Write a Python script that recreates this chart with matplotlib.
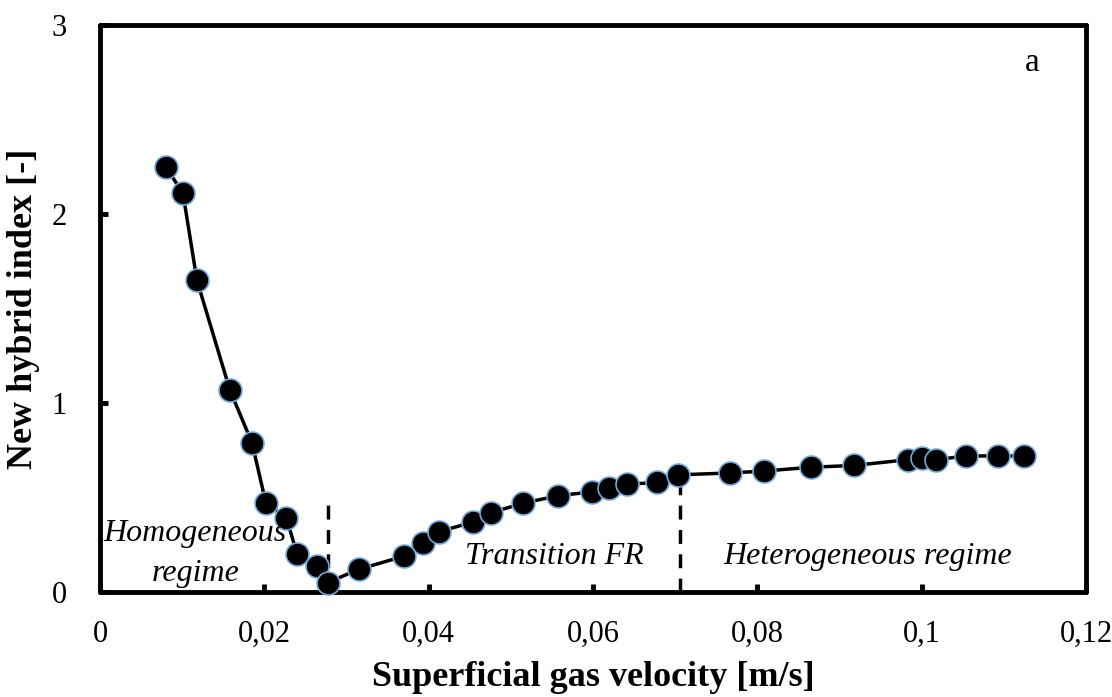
import matplotlib
matplotlib.use("Agg")
import matplotlib.pyplot as plt

# superficial gas velocity [m/s] and new hybrid index [-]
ug = [0.0080, 0.0101, 0.0118, 0.0158, 0.0185, 0.0202, 0.0227, 0.0240, 0.0264, 0.0277,
      0.0315, 0.0370, 0.0393, 0.0413, 0.0454, 0.0476, 0.0515, 0.0558, 0.0599, 0.0619,
      0.0642, 0.0678, 0.0704, 0.0767, 0.0808, 0.0865, 0.0918, 0.0983, 0.1000, 0.1018,
      0.1054, 0.1093, 0.1124]
hindex = [2.25, 2.11, 1.65, 1.07, 0.79, 0.47, 0.39, 0.20, 0.14, 0.05,
          0.12, 0.19, 0.26, 0.32, 0.37, 0.42, 0.47, 0.51, 0.53, 0.55,
          0.57, 0.58, 0.62, 0.63, 0.64, 0.66, 0.67, 0.70, 0.71, 0.70,
          0.72, 0.72, 0.72]

# regime boundaries
trans_x = [0.0278, 0.0706]
trans_top = [0.50, 0.62]

xticks = [0, 0.02, 0.04, 0.06, 0.08, 0.1, 0.12]
xlabels = ["0", "0,02", "0,04", "0,06", "0,08", "0,1", "0,12"]
yticks = [0, 1, 2, 3]

plt.rcParams['font.family'] = ['Liberation Serif', 'DejaVu Serif']

fig = plt.figure(figsize=(11.12, 6.97), dpi=100)
ax = fig.add_axes([0.0899, 0.1506, 0.8867, 0.8135])

ax.plot(ug, hindex, color='black', lw=2.5, marker='o', ms=16.5,
        mfc='black', mec='#6FA8DC', mew=1.2, zorder=3, clip_on=False)

for x, top in zip(trans_x, trans_top):
    ax.plot([x, x], [0, top], color='black', lw=2.5, ls=(0, (4, 3)), zorder=2)

ax.set_xlim(0, 0.12)
ax.set_ylim(0, 3)
ax.set_xticks(xticks)
ax.set_xticklabels(xlabels)
ax.set_yticks(yticks)

for s in ax.spines.values():
    s.set_linewidth(3.5)
    s.set_capstyle('round')

ax.tick_params(axis='both', direction='in', length=6, width=3.5, labelsize=22)
ax.tick_params(axis='x', pad=20)
ax.tick_params(axis='y', pad=24)

ax.set_xlabel("Superficial gas velocity [m/s]", fontsize=26, fontweight='bold', labelpad=9)
ax.set_ylabel("New hybrid index [-]", fontsize=26, fontweight='bold', labelpad=8)

ax.text(0.0116, 0.31, "Homogeneous", fontsize=23, style='italic', ha='center', va='center')
ax.text(0.0116, 0.10, "regime", fontsize=23, style='italic', ha='center', va='center')
ax.text(0.0553, 0.19, "Transition FR", fontsize=23, style='italic', ha='center', va='center')
ax.text(0.0934, 0.19, "Heterogeneous regime", fontsize=23, style='italic', ha='center', va='center')
ax.text(0.1135, 2.80, "a", fontsize=24, ha='center', va='center')

fig.savefig("out.png", dpi=100)
